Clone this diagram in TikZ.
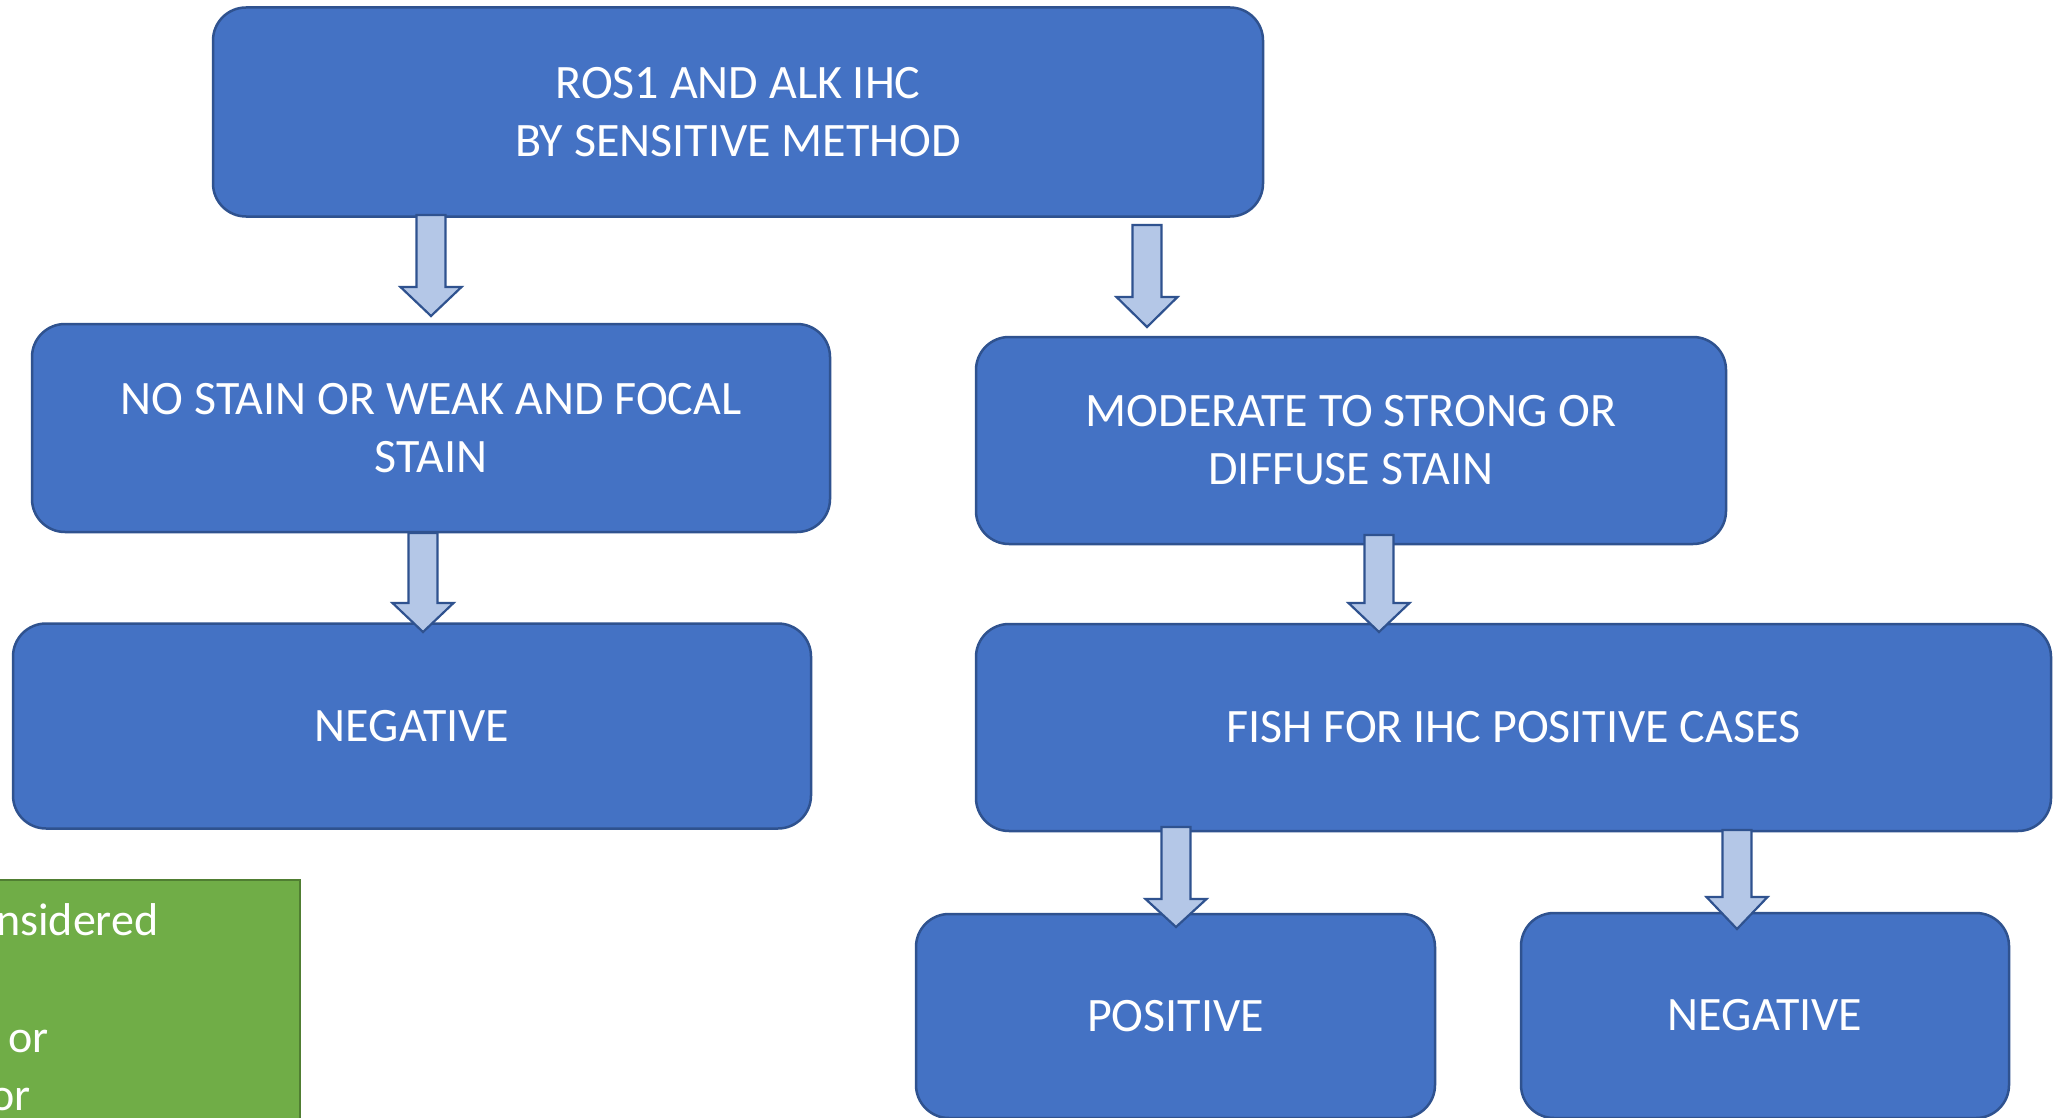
\documentclass[tikz,border=0pt]{standalone}
\usepackage{fontspec}
\setmainfont{Carlito}
\definecolor{boxfill}{HTML}{4472C4}
\definecolor{boxline}{HTML}{2F528F}
\definecolor{arrfill}{HTML}{B4C7E7}
\definecolor{greenfill}{HTML}{70AD47}
\definecolor{greenline}{HTML}{507E32}
\newcommand\blockdown[4]{%
  \draw[arr] ({#1-14.5},#2) -- ({#1+14.5},#2) -- ({#1+14.5},#3) -- ({#1+30.5},#3)
    -- (#1,#4) -- ({#1-30.5},#3) -- ({#1-14.5},#3) -- cycle;}
\begin{document}
\begin{tikzpicture}[x=1pt,y=-1pt,
  box/.style={draw=boxline, fill=boxfill, line width=2.5pt, rounded corners=33pt,
    text=white, align=center, font=\fontsize{48}{58}\selectfont, inner sep=0pt},
  arr/.style={draw=boxline, fill=arrfill, line width=2.2pt, line join=miter},
  gtext/.style={text=white, font=\fontsize{46}{58}\selectfont, inner sep=0pt}]
\clip (0,0) rectangle (2060,1118);
\fill[white] (0,0) rectangle (2060,1118);
% boxes
\node[box, minimum width=1050pt, minimum height=209pt] (top) at (738,112) {ROS1 AND ALK IHC\\BY SENSITIVE METHOD};
\node[box, minimum width=798pt, minimum height=208pt] (weak) at (431,428) {NO STAIN OR WEAK AND FOCAL\\STAIN};
\node[box, minimum width=798pt, minimum height=205pt] (negL) at (412,726) {NEGATIVE};
\node[box, minimum width=750pt, minimum height=207pt] (strong) at (1351,440.5) {MODERATE TO STRONG OR\\DIFFUSE STAIN};
\node[box, minimum width=1075pt, minimum height=207pt] (fish) at (1513.5,727.5) {FISH FOR IHC POSITIVE CASES};
\node[box, minimum width=519pt, minimum height=204pt] (pos) at (1175.5,1016) {POSITIVE};
\node[box, minimum width=488pt, minimum height=205pt] (negR) at (1765,1015.5) {NEGATIVE};
% green note (cut by the picture edge)
\draw[draw=greenline, fill=greenfill, line width=2pt] (-20,880) rectangle (300,1140);
\node[gtext, anchor=base west] (g1) at (-4,935) {nsidered};
\node[gtext, anchor=base west] (g2) at (8,1052) {or};
\node[gtext, anchor=base west] (g3) at (-10,1110) {or};
% block arrows
\blockdown{431}{215}{287}{316}
\blockdown{1147}{225}{297}{327}
\blockdown{423}{533}{603}{632}
\blockdown{1379}{535}{603}{632}
\blockdown{1176}{827}{899}{927}
\blockdown{1737}{830}{897}{929}
\end{tikzpicture}
\end{document}
